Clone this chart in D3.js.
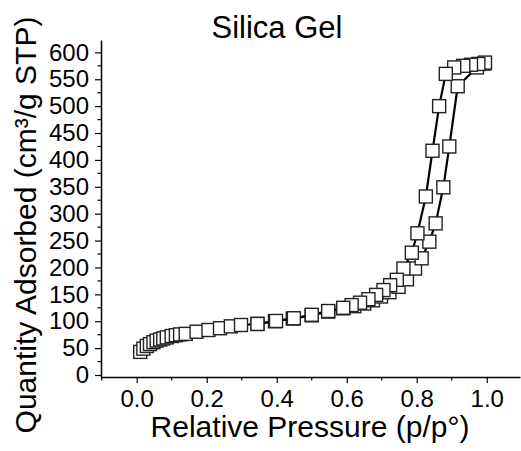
<!DOCTYPE html>
<html>
<head>
<meta charset="utf-8">
<script src="https://cdn.jsdelivr.net/npm/d3@7"></script>
<style>
  html, body { margin: 0; padding: 0; background: #fff; }
  svg { display: block; }
  text { font-family: "Liberation Sans", Arial, sans-serif; fill: #000; }
</style>
</head>
<body>
<svg id="chart" width="521" height="451"></svg>
<script>
// ---- data ----
const title = "Silica Gel";
const xLabel = "Relative Pressure (p/p°)";
const yLabel = "Quantity Adsorbed (cm³/g STP)";

const adsP = [0.010, 0.019, 0.029, 0.038, 0.048, 0.057, 0.067, 0.076, 0.086, 0.100,
              0.112, 0.124, 0.140, 0.171, 0.205, 0.238, 0.269, 0.298, 0.345, 0.395,
              0.446, 0.500, 0.547, 0.590, 0.622, 0.650, 0.675, 0.698, 0.722, 0.748,
              0.772, 0.795, 0.814, 0.836, 0.854, 0.876, 0.893, 0.917, 0.972, 0.993];
const adsQ = [43, 49, 54, 57.5, 61, 64, 66, 68, 70, 72.5,
              74, 75.5, 76.5, 80.5, 83.7, 87, 90.5, 93, 95, 100,
              105, 111, 118, 124, 128, 133, 139, 146, 154, 164,
              178, 198, 217, 248, 282, 349, 425, 537, 572, 579];

const desP = [0.995, 0.976, 0.955, 0.933, 0.907, 0.883, 0.864, 0.845, 0.826, 0.802,
              0.786, 0.762, 0.743, 0.724, 0.705, 0.684, 0.662, 0.638, 0.614, 0.590,
              0.547, 0.500, 0.449, 0.398, 0.345];
const desQ = [581, 578.5, 577, 575, 572, 560, 500, 417, 332, 263.5,
              227.5, 198, 177, 167, 158, 149, 141, 134.5, 130, 125,
              119, 112, 105.5, 100.5, 95];

const xTicks = [0.0, 0.2, 0.4, 0.6, 0.8, 1.0];
const yTicks = [0, 50, 100, 150, 200, 250, 300, 350, 400, 450, 500, 550, 600];

// ---- layout ----
const svg = d3.select("#chart");
const x = d3.scaleLinear().domain([-0.102, 1.095]).range([101, 520]);
const y = d3.scaleLinear().domain([-3.7, 623]).range([377, 40]);

// minor ticks
const xMinor = d3.range(-0.1, 1.05, 0.1).filter(v => !xTicks.some(t => Math.abs(t - v) < 1e-6));
const yMinor = d3.range(25, 625, 50);

const axisColor = "#000";

// x axis
const gx = svg.append("g").attr("transform", "translate(0,377)");
gx.call(d3.axisBottom(x).tickValues(xTicks).tickFormat(d3.format(".1f"))
  .tickSizeInner(6).tickSizeOuter(0).tickPadding(7));
gx.append("g").selectAll("line").data(xMinor).join("line")
  .attr("x1", d => x(d)).attr("x2", d => x(d)).attr("y1", 0).attr("y2", 3.5)
  .attr("stroke", axisColor).attr("stroke-width", 1.2);

// y axis
const gy = svg.append("g").attr("transform", "translate(101,0)");
gy.call(d3.axisLeft(y).tickValues(yTicks).tickFormat(d3.format("d"))
  .tickSizeInner(6).tickSizeOuter(0).tickPadding(6));
gy.append("g").selectAll("line").data(yMinor).join("line")
  .attr("y1", d => y(d)).attr("y2", d => y(d)).attr("x1", 0).attr("x2", -3.5)
  .attr("stroke", axisColor).attr("stroke-width", 1.2);

[gx, gy].forEach(g => {
  g.select(".domain").attr("stroke", axisColor).attr("stroke-width", 1.5);
  g.selectAll(".tick line").attr("stroke", axisColor).attr("stroke-width", 1.2);
  g.selectAll(".tick text").attr("font-family", "Liberation Sans, Arial, sans-serif")
    .attr("font-size", 24).attr("fill", "#000");
});

// titles
svg.append("text").attr("x", 277).attr("y", 38).attr("text-anchor", "middle")
  .attr("font-size", 31).text(title);
svg.append("text").attr("x", 310).attr("y", 437).attr("text-anchor", "middle")
  .attr("font-size", 30).text(xLabel);
svg.append("text").attr("transform", "translate(36,225) rotate(-90)")
  .attr("text-anchor", "middle").attr("font-size", 30).text(yLabel);

// series
const line = d3.line().x(d => x(d[0])).y(d => y(d[1]));
const ads = adsP.map((p, i) => [p, adsQ[i]]);
const des = desP.map((p, i) => [p, desQ[i]]);
const S = 13;

function drawSeries(data) {
  const g = svg.append("g");
  g.append("path").datum(data).attr("d", line)
    .attr("fill", "none").attr("stroke", "#000").attr("stroke-width", 2.2);
  g.selectAll("rect").data(data).join("rect")
    .attr("x", d => x(d[0]) - S / 2).attr("y", d => y(d[1]) - S / 2)
    .attr("width", S).attr("height", S)
    .attr("fill", "#fff").attr("stroke", "#222").attr("stroke-width", 1.4);
}
drawSeries(ads);
drawSeries(des);
</script>
</body>
</html>
